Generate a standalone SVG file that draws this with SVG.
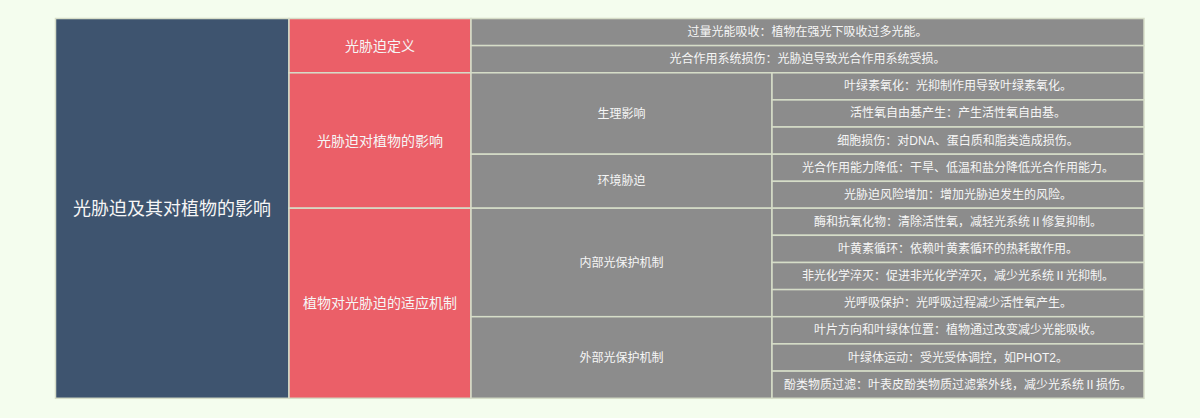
<svg xmlns="http://www.w3.org/2000/svg" width="1200" height="418" viewBox="0 0 1200 418">
<style>
.c{stroke:#d6ddc8;stroke-width:1.5}
.root{fill:#3e546f}
.l1{fill:#eb5f68}
.g{fill:#8c8c8c}
text{font-family:"Liberation Sans","Noto Sans CJK SC",sans-serif;fill:#f6f6f6;text-anchor:middle;dominant-baseline:central}
.t0{font-size:18px}
.t1{font-size:14px}
.t2{font-size:12px}
</style>
<rect width="1200" height="418" fill="#f4fdee"/>
<g id="root"><rect class="c root" x="55.5" y="18.5" width="233.5" height="379.8"/><text class="t0" x="172" y="209">光胁迫及其对植物的影响</text></g>
<g id="n1"><rect class="c l1" x="289" y="18.5" width="182" height="54.3"/><text class="t1" x="380" y="45.6">光胁迫定义</text></g>
<g id="n2"><rect class="c l1" x="289" y="72.8" width="182" height="135.4"/><text class="t1" x="380" y="140.5">光胁迫对植物的影响</text></g>
<g id="n3"><rect class="c l1" x="289" y="208.2" width="182" height="190.1"/><text class="t1" x="380" y="303.3">植物对光胁迫的适应机制</text></g>
<g id="n1a"><rect class="c g" x="471" y="18.5" width="673" height="27.1"/><text class="t2" x="807.5" y="32">过量光能吸收：植物在强光下吸收过多光能。</text></g>
<g id="n1b"><rect class="c g" x="471" y="45.6" width="673" height="27.2"/><text class="t2" x="807.5" y="59.2">光合作用系统损伤：光胁迫导致光合作用系统受损。</text></g>
<g id="n2a"><rect class="c g" x="471" y="72.8" width="301" height="81.4"/><text class="t2" x="621.5" y="113.5">生理影响</text></g>
<g id="n2b"><rect class="c g" x="471" y="154.2" width="301" height="54"/><text class="t2" x="621.5" y="181.2">环境胁迫</text></g>
<g id="n3a"><rect class="c g" x="471" y="208.2" width="301" height="108.5"/><text class="t2" x="621.5" y="262.5">内部光保护机制</text></g>
<g id="n3b"><rect class="c g" x="471" y="316.7" width="301" height="81.6"/><text class="t2" x="621.5" y="357.5">外部光保护机制</text></g>
<g id="leaf1"><rect class="c g" x="772" y="72.8" width="372" height="27.1"/><text class="t2" x="958" y="86.3">叶绿素氧化：光抑制作用导致叶绿素氧化。</text></g>
<g id="leaf2"><rect class="c g" x="772" y="99.9" width="372" height="27.1"/><text class="t2" x="958" y="113.4">活性氧自由基产生：产生活性氧自由基。</text></g>
<g id="leaf3"><rect class="c g" x="772" y="127" width="372" height="27.2"/><text class="t2" x="958" y="140.6">细胞损伤：对DNA、蛋白质和脂类造成损伤。</text></g>
<g id="leaf4"><rect class="c g" x="772" y="154.2" width="372" height="27.1"/><text class="t2" x="958" y="167.7">光合作用能力降低：干旱、低温和盐分降低光合作用能力。</text></g>
<g id="leaf5"><rect class="c g" x="772" y="181.3" width="372" height="26.9"/><text class="t2" x="958" y="194.8">光胁迫风险增加：增加光胁迫发生的风险。</text></g>
<g id="leaf6"><rect class="c g" x="772" y="208.2" width="372" height="27.1"/><text class="t2" x="958" y="221.8">酶和抗氧化物：清除活性氧，减轻光系统Ⅱ修复抑制。</text></g>
<g id="leaf7"><rect class="c g" x="772" y="235.3" width="372" height="27.2"/><text class="t2" x="958" y="248.9">叶黄素循环：依赖叶黄素循环的热耗散作用。</text></g>
<g id="leaf8"><rect class="c g" x="772" y="262.5" width="372" height="27.1"/><text class="t2" x="958" y="276.1">非光化学淬灭：促进非光化学淬灭，减少光系统Ⅱ光抑制。</text></g>
<g id="leaf9"><rect class="c g" x="772" y="289.6" width="372" height="27.1"/><text class="t2" x="958" y="303.2">光呼吸保护：光呼吸过程减少活性氧产生。</text></g>
<g id="leaf10"><rect class="c g" x="772" y="316.7" width="372" height="27.2"/><text class="t2" x="958" y="330.3">叶片方向和叶绿体位置：植物通过改变减少光能吸收。</text></g>
<g id="leaf11"><rect class="c g" x="772" y="343.9" width="372" height="27.2"/><text class="t2" x="958" y="357.5">叶绿体运动：受光受体调控，如PHOT2。</text></g>
<g id="leaf12"><rect class="c g" x="772" y="371.1" width="372" height="27.2"/><text class="t2" x="958" y="384.7">酚类物质过滤：叶表皮酚类物质过滤紫外线，减少光系统Ⅱ损伤。</text></g>
<g id="connectors"></g>
</svg>
